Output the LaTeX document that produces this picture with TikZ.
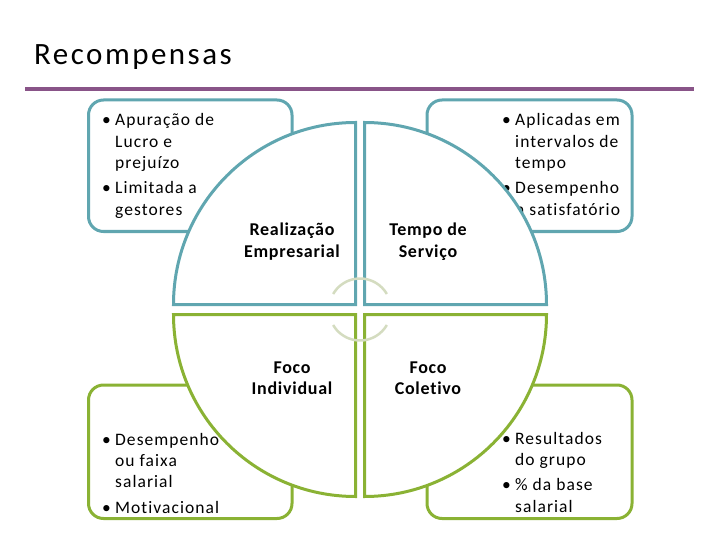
\documentclass[tikz,border=0pt]{standalone}
\usepackage{fontspec}
\setmainfont{Carlito}[LetterSpace=6,Ligatures=NoCommon]

\definecolor{tealline}{RGB}{96,166,176}
\definecolor{greenline}{RGB}{138,178,52}
\definecolor{titlebar}{RGB}{137,84,136}
\definecolor{cyclearc}{RGB}{212,220,192}

\newcommand\bl{\makebox[13pt][l]{\textbullet}}
\newcommand\ind{\hspace*{13pt}}

\begin{document}
\begin{tikzpicture}[x=1pt,y=-1pt,
    every node/.style={inner sep=0pt},
    sidebox/.style={line width=3pt,rounded corners=15pt,fill=white},
    quarter/.style={line width=3pt,fill=white},
    boxtext/.style={align=left,anchor=base west,font=\fontsize{17.5}{21.3}\selectfont},
    qlabel/.style={align=center,anchor=base,font=\fontsize{18}{21}\selectfont\bfseries\addfontfeature{LetterSpace=4}}]
  \useasboundingbox (0,0) rectangle (720,540);

  \node (title) [anchor=base west,font=\fontsize{31}{36}\selectfont\addfontfeature{LetterSpace=8}] at (34,65) {Recompensas};
  \draw[titlebar,line width=4pt] (25,89) -- (694,89);

  % corner boxes
  \draw[sidebox,draw=tealline] (88.5,100) rectangle (292,231.5);
  \draw[sidebox,draw=tealline] (427,100) rectangle (632,231.5);
  \draw[sidebox,draw=greenline] (88.5,385) rectangle (292,518.5);
  \draw[sidebox,draw=greenline] (427,385) rectangle (632,518.5);

  \node (tl text) [boxtext] at (102,215) {\bl Apuração de\\\ind Lucro e\\\ind prejuízo\\[4pt]\bl Limitada a\\\ind gestores};
  \node (tr text) [boxtext] at (502,215) {\bl Aplicadas em\\\ind intervalos de\\\ind tempo\\[4pt]\bl Desempenho\\\ind n satisfatório};
  \node (bl text) [boxtext] at (102,513) {\bl Desempenho\\\ind ou faixa\\\ind salarial\\[4pt]\bl Motivacional};
  \node (br text) [boxtext] at (502,512) {\bl Resultados\\\ind do grupo\\[4pt]\bl \% da base\\\ind salarial};

  % the four quarters
  \coordinate (tl) at (355.5,304.5);
  \coordinate (tr) at (364.5,304.5);
  \coordinate (bl) at (355.5,314.5);
  \coordinate (br) at (364.5,314.5);
  \draw[quarter,draw=tealline] (tl) -- ++(-182,0) arc[start angle=180,end angle=90,radius=182pt] -- cycle;
  \draw[quarter,draw=tealline] (tr) -- ++(0,-182) arc[start angle=90,end angle=0,radius=182pt] -- cycle;
  \draw[quarter,draw=greenline] (bl) -- ++(-182,0) arc[start angle=180,end angle=270,radius=182pt] -- cycle;
  \draw[quarter,draw=greenline] (br) -- ++(182,0) arc[start angle=0,end angle=-90,radius=182pt] -- cycle;

  \node (realiz) [qlabel] at (292,257) {Realização\\Empresarial};
  \node (tempo) [qlabel] at (428,257) {Tempo de\\Serviço};
  \node (indiv) [qlabel] at (292,394.5) {Foco\\Individual};
  \node (colet) [qlabel] at (428,394.5) {Foco\\Coletivo};

  % cycle arcs in the middle
  \coordinate (hub) at (360,309.5);
  \draw[cyclearc,line width=2.5pt] (hub) ++(150:31pt) arc[start angle=150,end angle=30,radius=31pt];
  \draw[cyclearc,line width=2.5pt] (hub) ++(210:31pt) arc[start angle=210,end angle=330,radius=31pt];
\end{tikzpicture}
\end{document}
